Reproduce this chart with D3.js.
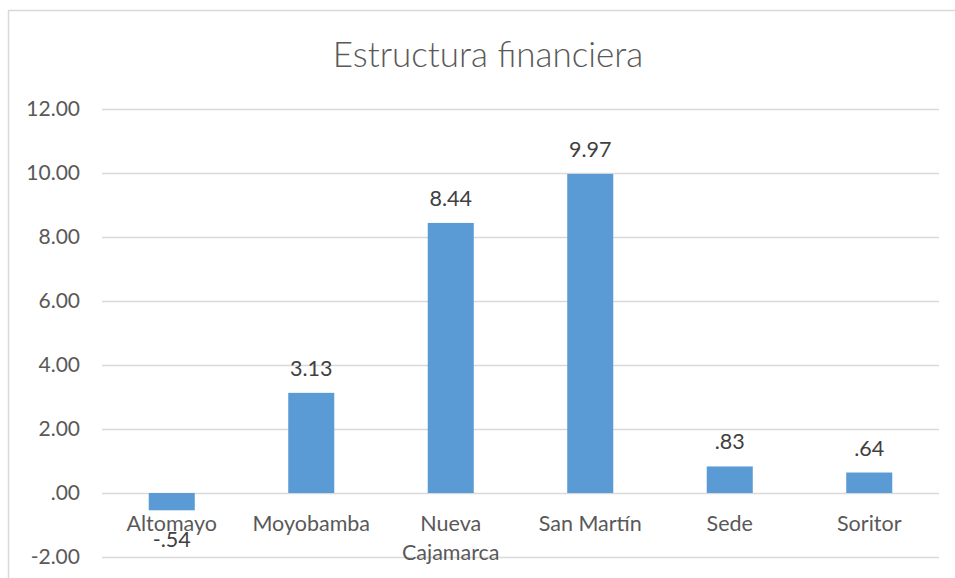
<!DOCTYPE html>
<html>
<head>
<meta charset="utf-8">
<script src="https://cdn.jsdelivr.net/npm/d3@7"></script>
<style>
  body { margin: 0; background: #fff; }
  text { font-family: Lato, "Open Sans", sans-serif; }
</style>
</head>
<body>
<div id="chart"></div>
<script>
// data
const categories = ["Altomayo", "Moyobamba", "Nueva Cajamarca", "San Martín", "Sede", "Soritor"];
const values = [-0.54, 3.13, 8.44, 9.97, 0.83, 0.64];
const yTicks = [-2, 0, 2, 4, 6, 8, 10, 12];

const W = 955, H = 578;
const margin = {left: 102, right: 16, top: 109, bottom: 21};

// excel style: .54 instead of 0.54, plain hyphen for minus
const loc = d3.formatLocale({decimal: ".", thousands: ",", grouping: [3], currency: ["", ""], minus: "-"});
const fmt = v => loc.format(".2f")(v).replace(/^(-?)0\./, "$1.");

const svg = d3.select("#chart").append("svg")
  .attr("width", W).attr("height", H);

// chart frame (runs off the right and bottom of the picture)
svg.append("rect")
  .attr("x", 8.5).attr("y", 10.5)
  .attr("width", 960).attr("height", 600)
  .attr("fill", "#fff").attr("stroke", "#D9D9D9").attr("stroke-width", 1.5);

svg.append("text")
  .attr("x", 488).attr("y", 67)
  .attr("text-anchor", "middle")
  .attr("font-size", 35)
  .attr("font-weight", 300)
  .attr("fill", "#595959")
  .text("Estructura financiera");

const x = d3.scaleBand()
  .domain(categories)
  .range([margin.left, W - margin.right])
  .paddingInner(0.67).paddingOuter(0.335);

const y = d3.scaleLinear()
  .domain([-2, 12])
  .range([557, 109]);

const g = svg.append("g");

// gridlines
g.selectAll("line.grid")
  .data(yTicks)
  .join("line")
  .attr("class", "grid")
  .attr("x1", margin.left).attr("x2", W - margin.right)
  .attr("y1", d => Math.round(y(d)) + 0.5).attr("y2", d => Math.round(y(d)) + 0.5)
  .attr("stroke", "#D9D9D9").attr("stroke-width", 1.5);

// y axis labels
const yAxis = d3.axisLeft(y).tickValues(yTicks).tickFormat(fmt).tickSize(0).tickPadding(0);
svg.append("g")
  .attr("transform", "translate(80,0)")
  .call(yAxis)
  .call(a => a.select(".domain").remove())
  .call(a => a.selectAll("text")
    .attr("font-family", "Lato, 'Open Sans', sans-serif")
    .attr("font-size", 21).attr("fill", "#595959"));

// bars
g.selectAll("rect.bar")
  .data(values)
  .join("rect")
  .attr("class", "bar")
  .attr("x", (d, i) => x(categories[i]))
  .attr("width", x.bandwidth())
  .attr("y", d => y(Math.max(0, d)))
  .attr("height", d => Math.abs(y(d) - y(0)))
  .attr("fill", "#5B9BD5");

// category labels
const catG = svg.append("g");
categories.forEach((c, i) => {
  const cx = x(c) + x.bandwidth() / 2;
  const words = c === "Nueva Cajamarca" ? ["Nueva", "Cajamarca"] : [c];
  const t = catG.append("text")
    .attr("text-anchor", "middle")
    .attr("font-size", 21.5)
    .attr("fill", "#595959");
  words.forEach((w, j) => {
    t.append("tspan").attr("x", cx).attr("y", 531 + j * 29).text(w);
  });
});

// data labels
g.selectAll("text.lbl")
  .data(values)
  .join("text")
  .attr("class", "lbl")
  .attr("x", (d, i) => x(categories[i]) + x.bandwidth() / 2)
  .attr("y", d => d >= 0 ? y(d) - 17 : y(d) + 37)
  .attr("text-anchor", "middle")
  .attr("font-size", 21.5)
  .attr("fill", "#404040")
  .text(d => fmt(d));
</script>
</body>
</html>
